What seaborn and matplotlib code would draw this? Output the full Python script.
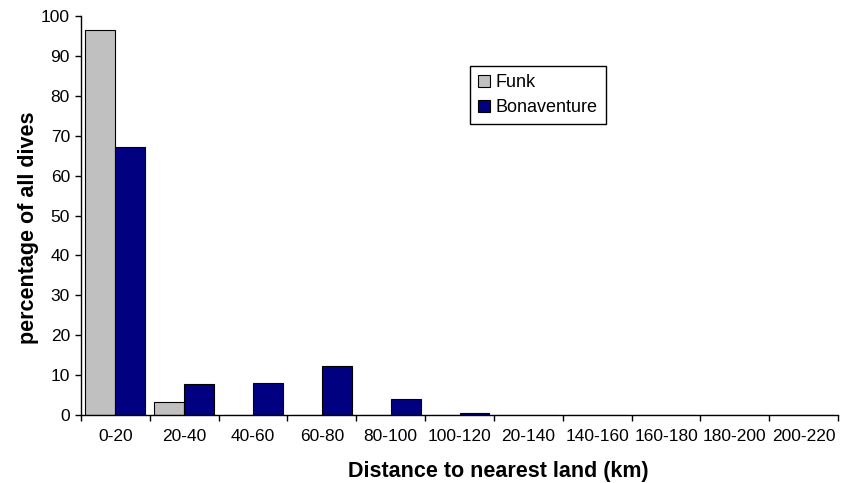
import numpy as np
import pandas as pd
import matplotlib
matplotlib.use("Agg")
import matplotlib.pyplot as plt
import seaborn as sns

# ---------- data ----------
bins = ["0-20", "20-40", "40-60", "60-80", "80-100", "100-120",
        "20-140", "140-160", "160-180", "180-200", "200-220"]
funk = [96.6, 3.3, 0, 0, 0, 0, 0, 0, 0, 0, 0]
bonaventure = [67.2, 7.8, 8.1, 12.3, 4.0, 0.5, 0, 0, 0, 0, 0]
series = ["Funk", "Bonaventure"]
colors = ["#C0C0C0", "#000080"]

df = pd.DataFrame({
    "Distance": bins * 2,
    "Pct": funk + bonaventure,
    "Site": [series[0]] * len(bins) + [series[1]] * len(bins),
})

sns.set_style("white")
plt.rcParams["font.family"] = ["Liberation Sans", "DejaVu Sans"]
plt.rcParams["text.color"] = "black"
plt.rcParams["xtick.color"] = "black"
plt.rcParams["ytick.color"] = "black"
plt.rcParams["axes.labelcolor"] = "black"

fig = plt.figure(figsize=(8.5, 4.83), dpi=100)
ax = fig.add_axes([0.0953, 0.1408, 0.8907, 0.826])

sns.barplot(data=df, x="Distance", y="Pct", hue="Site", palette=colors,
            width=0.87, gap=0, edgecolor="black", linewidth=0.8,
            saturation=1, ax=ax)

ax.set_ylim(0, 100)
ax.set_xlim(-0.5, len(bins) - 0.5)
ax.set_yticks(np.arange(0, 101, 10))
ax.tick_params(axis="y", direction="out", length=4.5, width=1, labelsize=12.5,
               left=True, pad=3.5)
# category labels centred, tick marks at category boundaries
ax.tick_params(axis="x", which="major", length=0, labelsize=12.5, pad=10)
ax.set_xticks(np.arange(-0.5, len(bins)), minor=True)
ax.tick_params(axis="x", which="minor", direction="out", length=4.5, width=1,
               bottom=True)

for side in ["top", "right"]:
    ax.spines[side].set_visible(False)
for side in ["left", "bottom"]:
    ax.spines[side].set_color("black")
    ax.spines[side].set_linewidth(1)

ax.set_xlabel("Distance to nearest land (km)", fontsize=15.5, fontweight="bold")
ax.set_ylabel("percentage of all dives", fontsize=15.5, fontweight="bold")
ax.xaxis.set_label_coords(0.551, -0.115)
ax.yaxis.set_label_coords(-0.056, 0.469)

leg = ax.legend(loc="upper left", bbox_to_anchor=(0.514, 0.875), fontsize=13,
                frameon=True, fancybox=False, edgecolor="black", framealpha=1,
                handlelength=0.65, handleheight=0.65, handletextpad=0.3,
                borderpad=0.45, labelspacing=0.45, borderaxespad=0)
leg.get_frame().set_linewidth(1)

fig.savefig("out.png", dpi=100)
